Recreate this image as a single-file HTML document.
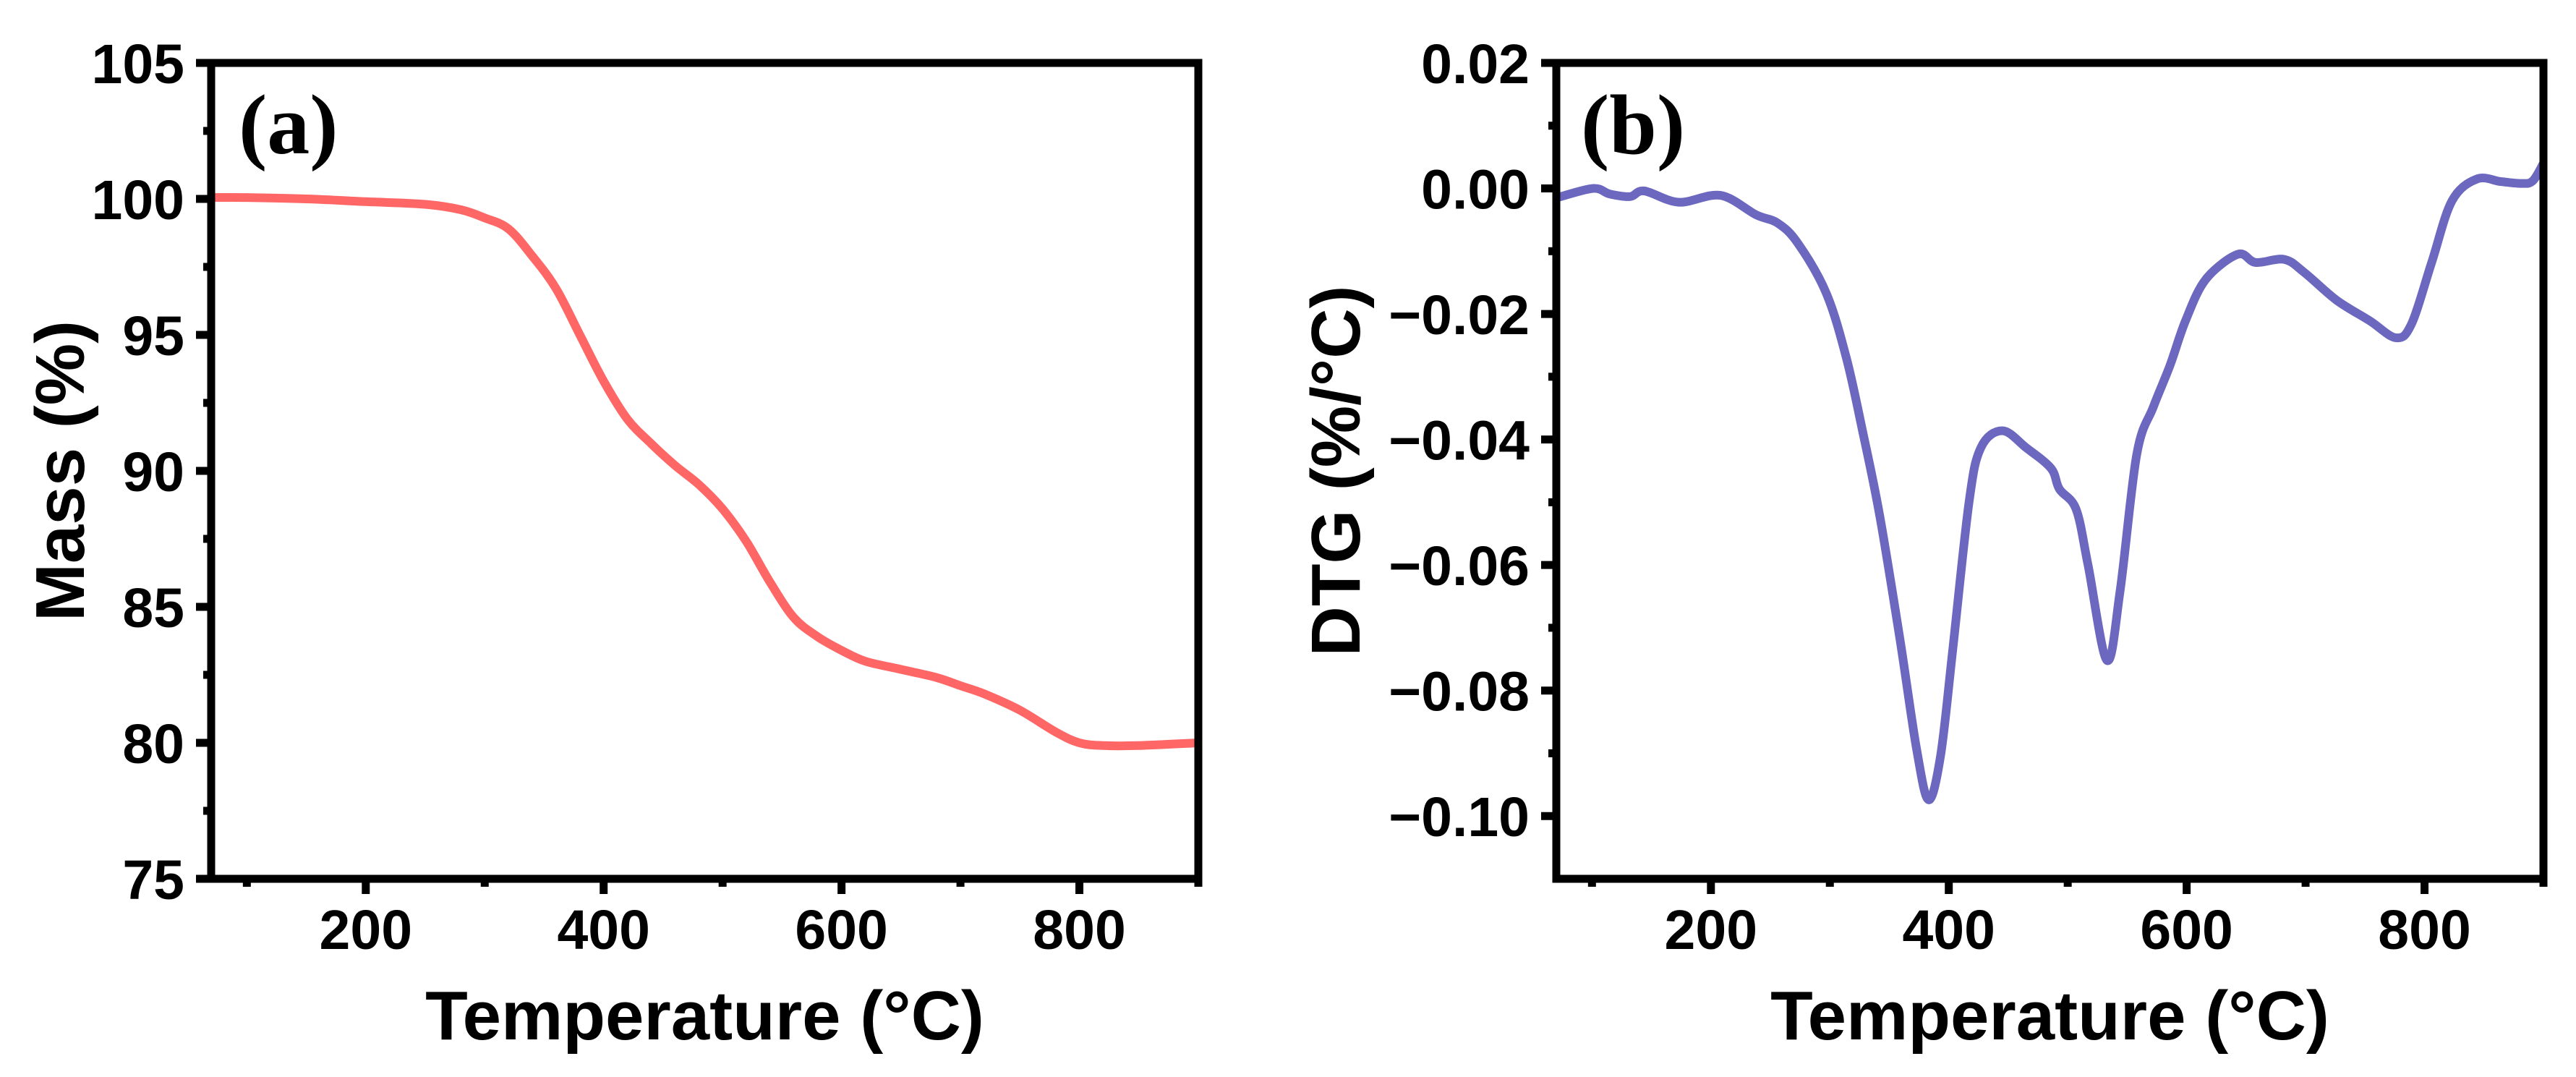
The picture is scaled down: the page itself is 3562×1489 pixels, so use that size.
<!DOCTYPE html>
<html>
<head>
<meta charset="utf-8">
<style>
html,body{margin:0;padding:0;background:#fff;}
svg{display:block;}
text{font-family:"Liberation Sans",Arial,sans-serif;font-weight:bold;fill:#000;}
.pl{font-family:"Liberation Serif","Times New Roman",serif;font-weight:bold;}
</style>
</head>
<body>
<svg id="fig" width="3562" height="1489" viewBox="0 0 3562 1489" xmlns="http://www.w3.org/2000/svg">
  <g id="panelA"></g>
  <g id="panelB"></g>
</svg>
<script>
// ---- Panel (a) data: Mass (%) vs Temperature ----
const massTemps = [70, 100, 150, 200, 250, 280, 300, 320, 340, 360, 380, 400, 420, 440, 460, 480, 500, 520, 540, 560, 580, 600, 620, 650, 680, 700, 720, 750, 780, 800, 820, 850, 900];
const massValues = [100.05, 100.05, 100.0, 99.9, 99.8, 99.6, 99.3, 98.9, 97.9, 96.7, 95.0, 93.3, 91.9, 91.0, 90.2, 89.5, 88.6, 87.4, 85.9, 84.6, 83.9, 83.4, 83.0, 82.7, 82.4, 82.1, 81.8, 81.2, 80.4, 80.0, 79.9, 79.9, 80.0];
const massYTicks = [75, 80, 85, 90, 95, 100, 105];
const massYTickLabels = ["75", "80", "85", "90", "95", "100", "105"];

// ---- Panel (b) data: DTG (%/°C) vs Temperature ----
const dtgTemps = [70, 101, 115, 132, 144, 173, 208, 238, 256, 273, 297, 314, 328, 342, 359, 373, 383, 393, 403, 417, 427, 445, 465, 486, 493, 507, 517, 533, 544, 558, 572, 586, 599, 616, 643, 658, 682, 699, 726, 754, 776, 789, 806, 823, 844, 864, 881, 891, 900];
const dtgValues = [-0.0015, 0.0, -0.0009, -0.0013, -0.0004, -0.0022, -0.0011, -0.0042, -0.0055, -0.0087, -0.0167, -0.0271, -0.0391, -0.0522, -0.0719, -0.0894, -0.0974, -0.0905, -0.0741, -0.050, -0.0413, -0.0386, -0.0413, -0.0446, -0.0479, -0.0511, -0.0599, -0.0752, -0.0642, -0.0424, -0.0348, -0.0282, -0.0211, -0.0145, -0.0105, -0.0118, -0.0113, -0.0134, -0.0178, -0.0211, -0.0238, -0.0216, -0.0118, -0.002, 0.0015, 0.0011, 0.0008, 0.0012, 0.004];
const dtgYTicks = [-0.10, -0.08, -0.06, -0.04, -0.02, 0.00, 0.02];
const dtgYTickLabels = ["\u22120.10", "\u22120.08", "\u22120.06", "\u22120.04", "\u22120.02", "0.00", "0.02"];

const xTicks = [200, 400, 600, 800];
const xTickLabels = ["200", "400", "600", "800"];
const xMinorTicks = [100, 300, 500, 700, 900];

const NS = "http://www.w3.org/2000/svg";
function mk(tag, attrs, parent) {
  const e = document.createElementNS(NS, tag);
  for (const k in attrs) e.setAttribute(k, attrs[k]);
  parent.appendChild(e);
  return e;
}
function smoothPath(pts) {
  let d = "M" + pts[0][0].toFixed(1) + "," + pts[0][1].toFixed(1);
  for (let i = 0; i < pts.length - 1; i++) {
    const p0 = pts[Math.max(0, i - 1)], p1 = pts[i], p2 = pts[i + 1], p3 = pts[Math.min(pts.length - 1, i + 2)];
    const c1x = p1[0] + (p2[0] - p0[0]) / 6, c1y = p1[1] + (p2[1] - p0[1]) / 6;
    const c2x = p2[0] - (p3[0] - p1[0]) / 6, c2y = p2[1] - (p3[1] - p1[1]) / 6;
    d += " C" + c1x.toFixed(1) + "," + c1y.toFixed(1) + " " + c2x.toFixed(1) + "," + c2y.toFixed(1) + " " + p2[0].toFixed(1) + "," + p2[1].toFixed(1);
  }
  return d;
}

function drawPanel(g, cfg) {
  const L = cfg.left, R = cfg.left + 1365, T = 87, B = 1215;
  const xs = t => L + (t - 70) / (900 - 70) * (R - L);
  const ys = v => B - (v - cfg.ymin) / (cfg.ymax - cfg.ymin) * (B - T);

  const cp = mk("clipPath", {id: cfg.id + "clip"}, g);
  mk("rect", {x: L, y: T, width: R - L, height: B - T}, cp);

  const pts = cfg.xs.map((t, i) => [xs(t), ys(cfg.ys[i])]);
  const line = mk("path", {d: smoothPath(pts), fill: "none", stroke: cfg.color, "stroke-width": 12, "stroke-linejoin": "round", "stroke-linecap": "round", "clip-path": "url(#" + cfg.id + "clip)"}, g);
  
  

  const frame = mk("rect", {x: L, y: T, width: R - L, height: B - T, fill: "none", stroke: "#000", "stroke-width": 11}, g);
  
  

  xTicks.forEach((t, i) => {
    const x = xs(t);
    const tk = mk("line", {x1: x, y1: B, x2: x, y2: B + 21, stroke: "#000", "stroke-width": 11}, g);
    
    
    const lb = mk("text", {x: x, y: 1312, "font-size": 77, "text-anchor": "middle"}, g);
    lb.textContent = xTickLabels[i];
    
    
  });
  xMinorTicks.forEach(t => {
    const x = xs(t);
    const tk = mk("line", {x1: x, y1: B, x2: x, y2: B + 11, stroke: "#000", "stroke-width": 11}, g);
    
    
  });

  cfg.yt.forEach((v, i) => {
    const y = ys(v);
    const tk = mk("line", {x1: L - 21, y1: y, x2: L, y2: y, stroke: "#000", "stroke-width": 11}, g);
    
    
    const lb = mk("text", {x: L - 37, y: y + 28, "font-size": 77, "text-anchor": "end"}, g);
    lb.textContent = cfg.ytl[i];
    
    
    if (i < cfg.yt.length - 1) {
      const ym = ys((v + cfg.yt[i + 1]) / 2);
      const mt = mk("line", {x1: L - 11, y1: ym, x2: L, y2: ym, stroke: "#000", "stroke-width": 11}, g);
      
      
    }
  });

  const xt = mk("text", {x: (L + R) / 2, y: 1437, "font-size": 96, "text-anchor": "middle"}, g);
  xt.textContent = "Temperature (\u00B0C)";
  
  
  const yt = mk("text", {x: 0, y: 0, "font-size": 96, "text-anchor": "middle", transform: "translate(" + cfg.ytitleX + "," + ((T + B) / 2) + ") rotate(-90)"}, g);
  yt.textContent = cfg.ytitle;
  
  

  const pl = mk("text", {x: cfg.plX, y: 212, "font-size": 118, "class": "pl"}, g);
  pl.textContent = cfg.plabel;
  
  
}

drawPanel(document.getElementById("panelA"), {
  id: "mass", left: 292, ymin: 75, ymax: 105, xs: massTemps, ys: massValues,
  yt: massYTicks, ytl: massYTickLabels, color: "#FF6666",
  ytitle: "Mass (%)", ytitleX: 116, plabel: "(a)", plX: 330
});
drawPanel(document.getElementById("panelB"), {
  id: "dtg", left: 2152, ymin: -0.11, ymax: 0.02, xs: dtgTemps, ys: dtgValues,
  yt: dtgYTicks, ytl: dtgYTickLabels, color: "#6C67BF",
  ytitle: "DTG (%/\u00B0C)", ytitleX: 1880, plabel: "(b)", plX: 2186
});
</script>
</body>
</html>
